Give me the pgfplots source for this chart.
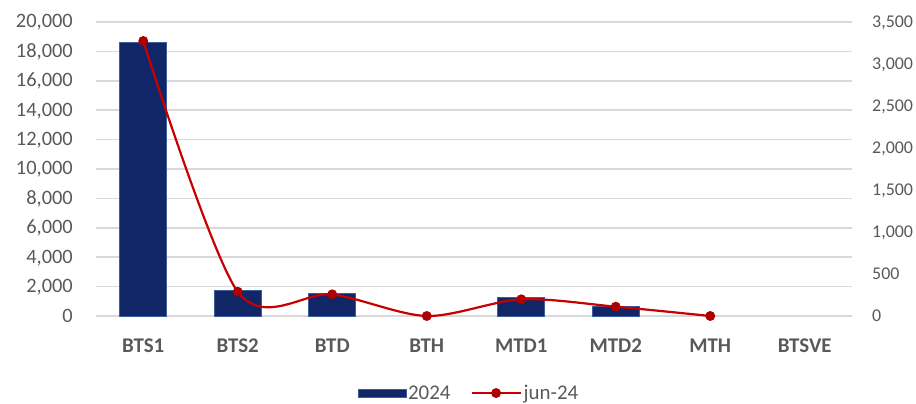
\documentclass[border=0pt]{standalone}
\usepackage{pgfplots}
\pgfplotsset{compat=1.18}
\usepackage{fontspec}
\setmainfont{Carlito}
\definecolor{tickgray}{RGB}{89,89,89}
\definecolor{gridgray}{RGB}{217,217,217}
\definecolor{navy}{RGB}{16,38,102}
\definecolor{navyedge}{RGB}{60,92,160}
\definecolor{linered}{RGB}{200,0,0}
\definecolor{markred}{RGB}{175,0,0}
\pgfplotsset{/pgf/number format/assume math mode=true}
\begin{document}
\begin{tikzpicture}[x=1bp,y=1bp]
\useasboundingbox (0,0) rectangle (916,403);
\begin{axis}[
  at={(96bp,87bp)}, anchor=south west,
  width=756bp, height=294bp, scale only axis,
  xmin=-0.5, xmax=7.5, ymin=0, ymax=20000,
  xtick={0,...,7}, xticklabels={BTS1,BTS2,BTD,BTH,MTD1,MTD2,MTH,BTSVE},
  xticklabel style={font=\fontsize{21}{24}\selectfont\bfseries, text=tickgray, anchor=base, inner sep=0pt, yshift=-36bp},
  ytick={0,2000,...,20000},
  yticklabel style={font=\fontsize{20.5}{24}\selectfont, text=tickgray, anchor=base east, inner sep=0pt, xshift=-23bp, yshift=-6bp, /pgf/number format/.cd, fixed, 1000 sep={,}},
  scaled y ticks=false,
  axis line style={draw=none}, major tick length=0pt, tick style={draw=none},
  ymajorgrids, grid style={gridgray, line width=1.5bp},
  clip=false,
]
\addplot[ybar, bar width=0.5, fill=navy, draw=navyedge, line width=1bp] coordinates {
  (0,18580) (1,1720) (2,1500) (4,1270) (5,680)
};
\end{axis}
\begin{axis}[
  at={(96bp,87bp)}, anchor=south west,
  width=756bp, height=294bp, scale only axis,
  xmin=-0.5, xmax=7.5, ymin=0, ymax=3500,
  hide x axis,
  axis y line*=right,
  ytick={0,500,...,3500},
  yticklabel style={font=\fontsize{18}{22}\selectfont, text=tickgray, anchor=base west, inner sep=0pt, xshift=20bp, yshift=-5.5bp, /pgf/number format/.cd, fixed, 1000 sep={,}},
  scaled y ticks=false,
  axis line style={draw=none}, major tick length=0pt, tick style={draw=none},
  clip=false,
  legend style={at={(0.5,-0.262)}, anchor=center, xshift=-5bp, draw=none, fill=none, font=\fontsize{21}{24}\selectfont, text=tickgray, legend columns=2, /tikz/every even column/.append style={column sep=18bp}},
]
\addlegendimage{legend image code/.code={\fill[navy] (0bp,-4bp) rectangle (48bp,4bp); \draw[navyedge] (0bp,-4bp) rectangle (48bp,4bp);}}
\addlegendentry{2024}
\addplot[linered, line width=2.2bp, smooth, mark=*, mark size=3.8bp, mark options={fill=markred, draw=markred},
  legend image code/.code={\draw[linered, line width=2.2bp] (0bp,0bp) -- (49bp,0bp); \fill[markred] (24.5bp,0bp) circle (3.8bp);}]
  coordinates {(0,3274) (1,289) (2,258) (3,0) (4,199) (5,111) (6,0)};
\addlegendentry{jun-24}
\end{axis}
\end{tikzpicture}
\end{document}
